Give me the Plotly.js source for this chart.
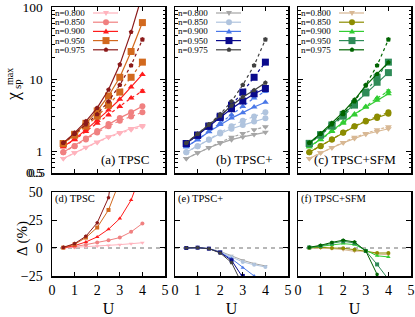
<!DOCTYPE html>
<html><head><meta charset="utf-8">
<script src="https://cdn.plot.ly/plotly-3.0.1.min.js"></script>
<style>body{margin:0;padding:0;background:#fff}#chart{width:415px;height:317px}</style>
</head><body><div id="chart"></div>
<script>
// ---------------- data ----------------
const U = [0.5, 1, 1.5, 2, 2.5, 3, 3.5, 4];
const fillings = ['n=0.800', 'n=0.850', 'n=0.900', 'n=0.950', 'n=0.975'];

// reference (dashed) chi_sp^max, shared by the three top panels
const ref080  = [0.79, 0.945, 1.12, 1.32, 1.55, 1.76, 1.98, 2.17];
const ref085  = [0.96, 1.17, 1.45, 1.81, 2.22, 2.64, 3.02, 3.45];
const ref090  = [1.15, 1.44, 1.87, 2.44, 3.18, 4.15, 5.45, 6.8];
const ref095  = [1.27, 1.66, 2.22, 3.05, 4.35, 6.6, 10.6, 17.2];
const ref0975 = [1.29, 1.72, 2.34, 3.25, 4.9, 8.3, 15.5, 35.5];
const refErr080  = [0, 0, 0, 0, 0, 0, 0, 0.03];
const refErr085  = [0, 0, 0, 0, 0, 0, 0.05, 0.1];
const refErr090  = [0, 0, 0, 0, 0, 0.05, 0.1, 0.3];
const refErr095  = [0, 0, 0, 0, 0, 0.1, 0.4, 1.2];
const refErr0975 = [0, 0, 0, 0, 0, 0.2, 0.5, 1.5];

// (a) TPSC
const tpsc080  = [0.79, 0.95, 1.13, 1.34, 1.58, 1.81, 2.06, 2.27];
const tpsc085  = [0.96, 1.18, 1.49, 1.90, 2.37, 2.89, 3.45, 4.2];
const tpsc090  = [1.15, 1.47, 1.97, 2.68, 3.71, 5.24, 7.78, 11.6];
const tpsc095  = [1.27, 1.71, 2.43, 3.61, 5.83, 10.6, 24.2, 61];
const tpsc0975 = [1.30, 1.79, 2.59, 3.98, 7.1, 15.9, 45, 150];

// (b) TPSC+
const tplus080  = [0.79, 0.945, 1.11, 1.28, 1.44, 1.57, 1.70, 1.82];
const tplus085  = [0.96, 1.17, 1.44, 1.75, 2.04, 2.31, 2.57, 2.86];
const tplus090  = [1.15, 1.44, 1.86, 2.34, 2.87, 3.42, 4.09, 4.76];
const tplus095  = [1.27, 1.66, 2.21, 2.93, 3.87, 4.95, 6.25, 7.4];
const tplus0975 = [1.29, 1.72, 2.33, 3.10, 4.26, 5.64, 7.0, 8.9];

// (c) TPSC+SFM
const sfm080  = [0.79, 0.945, 1.11, 1.30, 1.50, 1.71, 1.87, 2.04];
const sfm085  = [0.96, 1.18, 1.45, 1.80, 2.19, 2.57, 2.88, 3.3];
const sfm090  = [1.15, 1.46, 1.92, 2.54, 3.28, 4.07, 5.07, 6.26];
const sfm095  = [1.28, 1.69, 2.31, 3.23, 4.55, 6.42, 9.04, 12.3];
const sfm0975 = [1.30, 1.76, 2.46, 3.48, 5.16, 8.1, 11.8, 17.0];

// (d) Delta TPSC (%)
const dTpsc080  = [0, 0.5, 1.0, 1.5, 2.2, 3.0, 3.8, 4.7];
const dTpsc085  = [0.1, 1.2, 3.0, 4.8, 6.9, 9.3, 14.4, 21.9];
const dTpsc090  = [0.2, 2.1, 5.4, 9.9, 16.8, 26.3, 42.8, 70];
const dTpsc095  = [0.3, 3.3, 9.3, 18.3, 34, 60, 128, 255];
const dTpsc0975 = [0.6, 3.9, 10.5, 22.5, 45, 92, 190, 420];

// (e) Delta TPSC+ (%)
const dTplus080  = [0, 0, -0.5, -3, -7, -11, -14, -16];
const dTplus085  = [0, 0.2, -0.6, -3.5, -8, -12.5, -15, -17];
const dTplus090  = [0, 0.3, -0.6, -4, -9.6, -17.7, -25, -30];
const dTplus095  = [0, 0.3, -0.6, -4, -11, -25, -41, -57];
const dTplus0975 = [0, 0.3, -0.6, -4.5, -13, -32, -55, -75];

// (f) Delta TPSC+SFM (%)
const dSfm080  = [0, 0, -0.6, -1.5, -3, -2.7, -5.5, -6];
const dSfm085  = [0, 0.6, 0, -0.3, -1.5, -2.7, -4.5, -4.5];
const dSfm090  = [0.3, 1.2, 2.7, 3.9, 3, -2, -7, -8];
const dSfm095  = [0.5, 1.8, 4.2, 6, 4.5, -2.7, -14.7, -28];
const dSfm0975 = [0.6, 2.4, 5, 7, 5.4, -2.7, -23.6, -52];

const panelNamesTop = ['(a) TPSC', '(b) TPSC+', '(c) TPSC+SFM'];
const panelNamesBot = ['(d) TPSC', '(e) TPSC+', '(f) TPSC+SFM'];
const yTickVals = [0.5, 1, 10, 100];
const yTickText = ['0.5', '1', '10', '100'];
const dTickVals = [-25, 0, 25, 50];

// ---------------- style ----------------
const refs = [ref080, ref085, ref090, ref095, ref0975];
const refErrs = [refErr080, refErr085, refErr090, refErr095, refErr0975];
const methods = [
  [tpsc080, tpsc085, tpsc090, tpsc095, tpsc0975],
  [tplus080, tplus085, tplus090, tplus095, tplus0975],
  [sfm080, sfm085, sfm090, sfm095, sfm0975]
];
const deltas = [
  [dTpsc080, dTpsc085, dTpsc090, dTpsc095, dTpsc0975],
  [dTplus080, dTplus085, dTplus090, dTplus095, dTplus0975],
  [dSfm080, dSfm085, dSfm090, dSfm095, dSfm0975]
];
const colors = [
  ['#ffb3bd', '#f08080', '#ff1c1c', '#d2691e', '#8b1a1a'],
  ['#a6a6a6', '#b0c4de', '#4a78e8', '#0a0a8c', '#404040'],
  ['#d8b894', '#8c8c00', '#32cd32', '#2e8b57', '#006400']
];
const symbols = ['triangle-down', 'circle', 'triangle-up', 'square', 'pentagon'];
const msize = [6, 6, 6, 7, 5];

const W = 415, H = 317;
const PX = x => x / W, PY = y => 1 - y / H;
const panelX = [[52, 165], [175, 288], [298, 411]];
const topY = [7, 173], botY = [192, 276];
const FONT = '"Liberation Serif", "DejaVu Serif", serif';

const traces = [];
for (let k = 0; k < 3; k++) {
  const xa = 'x' + (k === 0 ? '' : k + 1), ya = 'y' + (k === 0 ? '' : k + 1);
  const xb = 'x' + (k + 4), yb = 'y' + (k + 4);
  for (let i = 0; i < 5; i++) {
    const c = colors[k][i];
    traces.push({
      x: U, y: refs[i], xaxis: xa, yaxis: ya, mode: 'lines+markers', showlegend: false,
      line: {color: c, width: 1.2, dash: '3px,3px'},
      marker: {symbol: symbols[i], size: msize[i], color: c},
      error_y: {type: 'data', array: refErrs[i], visible: true, color: c, thickness: 1, width: 2}
    });
    traces.push({
      x: U, y: methods[k][i], xaxis: xa, yaxis: ya, mode: 'lines+markers', showlegend: false,
      line: {color: c, width: 1.2},
      marker: {symbol: symbols[i], size: msize[i], color: c}
    });
    traces.push({
      x: U, y: deltas[k][i], xaxis: xb, yaxis: yb, mode: 'lines+markers', showlegend: false,
      line: {color: c, width: 1},
      marker: {symbol: symbols[i], size: 4, color: c}
    });
  }
}

const layout = {
  width: W, height: H, margin: {l: 0, r: 0, t: 0, b: 0},
  paper_bgcolor: '#fff', plot_bgcolor: '#fff', showlegend: false,
  font: {family: FONT, color: '#000', size: 13},
  annotations: [], shapes: []
};

function xAxis(k, bottom) {
  return {
    domain: [PX(panelX[k][0]), PX(panelX[k][1])], range: [0, 5], tick0: 0, dtick: 1,
    ticks: 'inside', ticklen: 4, tickwidth: 1, tickcolor: '#000',
    showline: true, linecolor: '#000', linewidth: 1.5, mirror: bottom ? true : 'ticks',
    showgrid: false, zeroline: false, showticklabels: bottom, ticklabelstandoff: 1,
    ticklabeloverflow: 'allow',
    tickfont: {family: FONT, size: 14, color: '#000'},
    anchor: 'y' + (bottom ? k + 4 : (k === 0 ? '' : k + 1)),
    title: bottom ? {text: 'U', font: {family: FONT, size: 16, color: '#000'}, standoff: 16} : undefined
  };
}
function yTop(k) {
  return {
    domain: [PY(topY[1]), PY(topY[0])], type: 'log', range: [Math.log10(0.5) - 0.004, 2.002],
    tickmode: 'array', tickvals: yTickVals, ticktext: yTickText,
    ticks: 'inside', ticklen: 5, tickwidth: 1, tickcolor: '#000',
    minor: {tickmode: 'array', tickvals: [0.6,0.7,0.8,0.9,2,3,4,5,6,7,8,9,20,30,40,50,60,70,80,90],
            ticks: 'inside', ticklen: 2.5, tickcolor: '#000', tickwidth: 1},
    showline: true, linecolor: '#000', linewidth: 1.5, mirror: 'ticks',
    showgrid: false, zeroline: false, showticklabels: k === 0, ticklabelstandoff: 5,
    ticklabeloverflow: 'allow',
    tickfont: {family: FONT, size: 13.5, color: '#000'},
    anchor: 'x' + (k === 0 ? '' : k + 1)
  };
}
function yBot(k) {
  return {
    domain: [PY(botY[1]), PY(botY[0])], range: [-25.05, 50.05],
    tickmode: 'array', tickvals: dTickVals,
    ticks: 'inside', ticklen: 5, tickwidth: 1, tickcolor: '#000',
    showline: true, linecolor: '#000', linewidth: 1.5, mirror: 'ticks',
    showgrid: false, zeroline: false, showticklabels: k === 0, ticklabelstandoff: 5,
    ticklabeloverflow: 'allow',
    tickfont: {family: FONT, size: 14, color: '#000'},
    anchor: 'x' + (k + 4)
  };
}
for (let k = 0; k < 3; k++) {
  const s = k === 0 ? '' : k + 1;
  layout['xaxis' + s] = xAxis(k, false);
  layout['yaxis' + s] = yTop(k);
  layout['xaxis' + (k + 4)] = xAxis(k, true);
  layout['yaxis' + (k + 4)] = yBot(k);

  // zero reference line in Delta panels
  layout.shapes.push({type: 'line', xref: 'x' + (k + 4) + ' domain', x0: 0, x1: 1,
    yref: 'y' + (k + 4), y0: 0, y1: 0, line: {color: '#707070', width: 1.2, dash: '4px,4px'}, layer: 'below'});

  // panel labels
  layout.annotations.push({text: panelNamesTop[k], xref: 'paper', yref: 'paper',
    x: PX(panelX[k][1] - 14), y: PY(159), xanchor: 'right', yanchor: 'middle', showarrow: false,
    borderpad: 0, font: {family: FONT, size: 13, color: '#000'}});
  layout.annotations.push({text: panelNamesBot[k], xref: 'paper', yref: 'paper',
    x: PX(panelX[k][0] + 2), y: PY(199), xanchor: 'left', yanchor: 'middle', showarrow: false,
    borderpad: 0, font: {family: FONT, size: 10.5, color: '#000'}});

  // legend (text left, key right)
  for (let i = 0; i < 5; i++) {
    const yy = 13 + 9.2 * i, x0 = panelX[k][0];
    const c = colors[k][i];
    layout.annotations.push({text: fillings[i], xref: 'paper', yref: 'paper',
      x: PX(x0 + 2), y: PY(yy), xanchor: 'left', yanchor: 'middle', showarrow: false,
      borderpad: 0, font: {family: FONT, size: 9, color: '#000'}});
    layout.shapes.push({type: 'line', xref: 'paper', yref: 'paper',
      x0: PX(x0 + 41), x1: PX(x0 + 66), y0: PY(yy), y1: PY(yy), line: {color: c, width: 1.2}});
    const cx = x0 + 54, r = msize[i] / 2;
    let pts;
    if (symbols[i] === 'circle') {
      layout.shapes.push({type: 'circle', xref: 'paper', yref: 'paper',
        x0: PX(cx - r), x1: PX(cx + r), y0: PY(yy - r), y1: PY(yy + r),
        fillcolor: c, line: {color: c, width: 0}});
      continue;
    } else if (symbols[i] === 'triangle-down') {
      pts = [[cx - r, yy - r * 0.7], [cx + r, yy - r * 0.7], [cx, yy + r]];
    } else if (symbols[i] === 'triangle-up') {
      pts = [[cx - r, yy + r * 0.7], [cx + r, yy + r * 0.7], [cx, yy - r]];
    } else if (symbols[i] === 'square') {
      pts = [[cx - r, yy - r], [cx + r, yy - r], [cx + r, yy + r], [cx - r, yy + r]];
    } else {
      pts = [];
      for (let j = 0; j < 5; j++) {
        const a = -Math.PI / 2 + j * 2 * Math.PI / 5;
        pts.push([cx + r * Math.cos(a), yy + r * Math.sin(a)]);
      }
    }
    const path = 'M ' + pts.map(p => PX(p[0]).toFixed(5) + ',' + PY(p[1]).toFixed(5)).join(' L ') + ' Z';
    layout.shapes.push({type: 'path', xref: 'paper', yref: 'paper', path: path,
      fillcolor: c, line: {color: c, width: 0}});
  }
}

// lowest log-axis label at the corner, placed like the other tick labels
layout.annotations.push({text: yTickText[0], xref: 'paper', yref: 'y', x: PX(46), y: Math.log10(yTickVals[0]),
  xanchor: 'right', yanchor: 'middle', showarrow: false, borderpad: 0,
  font: {family: FONT, size: 13.5, color: '#000'}});

// y-axis titles
layout.annotations.push({text: 'χ', xref: 'paper', yref: 'paper', x: PX(13), y: PY(97),
  textangle: -90, showarrow: false, xanchor: 'center', yanchor: 'middle', borderpad: 0,
  font: {family: FONT, size: 18, color: '#000'}});
layout.annotations.push({text: 'max', xref: 'paper', yref: 'paper', x: PX(9), y: PY(77),
  textangle: -90, showarrow: false, xanchor: 'center', yanchor: 'middle', borderpad: 0,
  font: {family: FONT, size: 10, color: '#000'}});
layout.annotations.push({text: 'sp', xref: 'paper', yref: 'paper', x: PX(17), y: PY(84),
  textangle: -90, showarrow: false, xanchor: 'center', yanchor: 'middle', borderpad: 0,
  font: {family: FONT, size: 11, color: '#000'}});
layout.annotations.push({text: 'Δ (%)', xref: 'paper', yref: 'paper', x: PX(22), y: PY(239),
  textangle: -90, showarrow: false, xanchor: 'center', yanchor: 'middle', borderpad: 0,
  font: {family: FONT, size: 15, color: '#000'}});

Plotly.newPlot('chart', traces, layout, {staticPlot: true, displayModeBar: false});
</script>
</body></html>
